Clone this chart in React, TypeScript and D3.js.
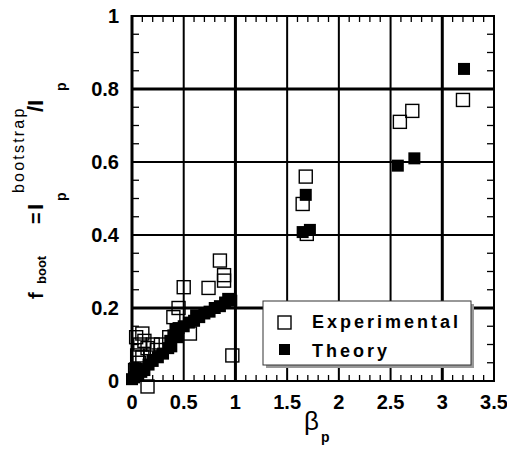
import React from "react";
import * as d3 from "d3";

// Experimental bootstrap fractions (open squares)
const expBeta = [3.20, 2.59, 2.71, 1.68, 1.65, 1.69,
  0.85, 0.89, 0.89, 0.50, 0.74, 0.40, 0.45, 0.97, 0.15,
  0.03, 0.05, 0.08, 0.12, 0.15, 0.10, 0.18, 0.04, 0.10, 0.20, 0.07, 0.56, 0.36, 0.28, 0.24];
const expFboot = [0.77, 0.71, 0.74, 0.56, 0.485, 0.403,
  0.33, 0.29, 0.275, 0.257, 0.255, 0.175, 0.20, 0.07, -0.015,
  0.03, 0.07, 0.10, 0.11, 0.09, 0.065, 0.07, 0.12, 0.13, 0.10, 0.05, 0.13, 0.12, 0.10, 0.085];

// Theoretical bootstrap fractions (filled squares)
const thBeta = [3.21, 2.57, 2.73, 1.68, 1.65, 1.72,
  0.00, 0.02, 0.04, 0.06, 0.03, 0.09, 0.12, 0.16, 0.20, 0.25, 0.30, 0.35, 0.37, 0.38, 0.40, 0.42, 0.44, 0.45,
  0.50, 0.55, 0.60, 0.65, 0.70, 0.75, 0.80, 0.85, 0.90, 0.93, 0.96, 0.62];
const thFboot = [0.855, 0.59, 0.61, 0.51, 0.408, 0.414,
  0.005, 0.01, 0.02, 0.015, 0.035, 0.025, 0.03, 0.045, 0.055, 0.065, 0.075, 0.09, 0.11, 0.095, 0.125, 0.14, 0.12, 0.145,
  0.15, 0.16, 0.165, 0.175, 0.185, 0.19, 0.20, 0.205, 0.215, 0.225, 0.22, 0.18];

const xTicks = [0, 0.5, 1, 1.5, 2, 2.5, 3, 3.5];
const xTickLabels = ["0", "0.5", "1", "1.5", "2", "2.5", "3", "3.5"];
const yTicks = [0, 0.2, 0.4, 0.6, 0.8, 1];
const yTickLabels = ["0", "0.2", "0.4", "0.6", "0.8", "1"];
const legendLabels = ["Experimental", "Theory"];

const W = 507;
const H = 452;
const L = 132, R = 494, T = 16, B = 381;

export default function App() {
  const x = d3.scaleLinear().domain([0, 3.5]).range([L, R]);
  const y = d3.scaleLinear().domain([0, 1]).range([B, T]);

  const xMinor = d3.range(0, 3.5001, 0.1).filter((v) => Math.abs(v * 2 - Math.round(v * 2)) > 1e-6);
  const yMinor = d3.range(0, 1.0001, 0.05).filter((v) => Math.abs(v * 5 - Math.round(v * 5)) > 1e-6);

  const exp = expBeta.map((b, i) => ({ b, f: expFboot[i] }));
  const th = thBeta.map((b, i) => ({ b, f: thFboot[i] }));

  const font = "'Liberation Sans', Arial, Helvetica, sans-serif";
  const openSize = 13;
  const fillSize = 12;
  const thick = (t: number) => (t === 1 || t === 3 || t === 0.2 || t === 0.8 ? 3 : 2);

  // y-axis title drawn in a rotated frame; local x runs up the page
  const oy = 300;
  const ly = (pageY: number) => oy - pageY;

  return (
    <svg width={W} height={H} style={{ display: "block", position: "absolute", left: 0, top: 0 }}
      fontFamily={font}>
      <rect x={0} y={0} width={W} height={H} fill="#fff" />

      {/* grid */}
      {xTicks.slice(1, -1).map((t) => (
        <line key={"gx" + t} x1={x(t)} x2={x(t)} y1={T} y2={B} stroke="#000" strokeWidth={thick(t)} />
      ))}
      {yTicks.slice(1, -1).map((t) => (
        <line key={"gy" + t} x1={L} x2={R} y1={y(t)} y2={y(t)} stroke="#000" strokeWidth={thick(t)} />
      ))}

      {/* minor ticks on all four sides */}
      {xMinor.map((t) => (
        <g key={"mx" + t}>
          <line x1={x(t)} x2={x(t)} y1={B} y2={B - 6} stroke="#000" strokeWidth={1.3} />
          <line x1={x(t)} x2={x(t)} y1={T} y2={T + 6} stroke="#000" strokeWidth={1.3} />
        </g>
      ))}
      {yMinor.map((t) => (
        <g key={"my" + t}>
          <line x1={L} x2={L + 7} y1={y(t)} y2={y(t)} stroke="#000" strokeWidth={1.3} />
          <line x1={R} x2={R - 7} y1={y(t)} y2={y(t)} stroke="#000" strokeWidth={1.3} />
        </g>
      ))}

      {/* frame */}
      <line x1={L} x2={L} y1={T - 1} y2={B + 1} stroke="#000" strokeWidth={3} />
      <line x1={R} x2={R} y1={T - 1} y2={B + 1} stroke="#000" strokeWidth={2} />
      <line x1={L} x2={R} y1={T} y2={T} stroke="#000" strokeWidth={2} />
      <line x1={L} x2={R} y1={B} y2={B} stroke="#000" strokeWidth={2} />

      {/* tick labels */}
      {xTicks.map((t, i) => (
        <text key={"xl" + t} x={x(t)} y={409} textAnchor="middle" fontSize={20} fontWeight="bold">
          {xTickLabels[i]}
        </text>
      ))}
      {yTicks.map((t, i) => (
        <text key={"yl" + t} x={119} y={y(t) + 7} textAnchor="end" fontSize={20} fontWeight="bold">
          {yTickLabels[i]}
        </text>
      ))}

      {/* experimental points */}
      {exp.map((d, i) => (
        <rect key={"e" + i} x={x(d.b) - openSize / 2} y={y(d.f) - openSize / 2}
          width={openSize} height={openSize} fill="none" stroke="#000" strokeWidth={1.4} />
      ))}
      {/* theory points */}
      {th.map((d, i) => (
        <rect key={"t" + i} x={x(d.b) - fillSize / 2} y={y(d.f) - fillSize / 2}
          width={fillSize} height={fillSize} fill="#000" />
      ))}

      {/* legend */}
      <rect x={266} y={304} width={208} height={64} fill="#999" />
      <rect x={263} y={301} width={208} height={64} fill="#fff" stroke="#333" strokeWidth={1} />
      <rect x={278} y={316} width={openSize} height={openSize} fill="none" stroke="#000" strokeWidth={1.4} />
      <text x={312} y={328} fontSize={18} fontWeight="bold" letterSpacing={3}>{legendLabels[0]}</text>
      <rect x={279} y={344} width={11} height={11} fill="#000" />
      <text x={312} y={357} fontSize={18} fontWeight="bold" letterSpacing={3}>{legendLabels[1]}</text>

      {/* x-axis title */}
      <text x={304} y={430} fontSize={26}>β</text>
      <text x={321} y={442} fontSize={14} fontWeight="bold">p</text>

      {/* y-axis title */}
      <g transform={`translate(43, ${oy}) rotate(-90)`} fontWeight="bold">
        <text x={ly(299)} y={0} fontSize={20}>f</text>
        <text x={ly(284)} y={3} fontSize={13}>boot</text>
        <text x={ly(224)} y={0} fontSize={20}>=</text>
        <text x={ly(210)} y={0} fontSize={22}>I</text>
        <text x={ly(201)} y={23} fontSize={14}>p</text>
        <text x={ly(193)} y={-19} fontSize={16} fontWeight="normal" letterSpacing={2.2}>bootstrap</text>
        <text x={ly(112)} y={0} fontSize={22}>/I</text>
        <text x={ly(91)} y={23} fontSize={14}>p</text>
      </g>
    </svg>
  );
}
